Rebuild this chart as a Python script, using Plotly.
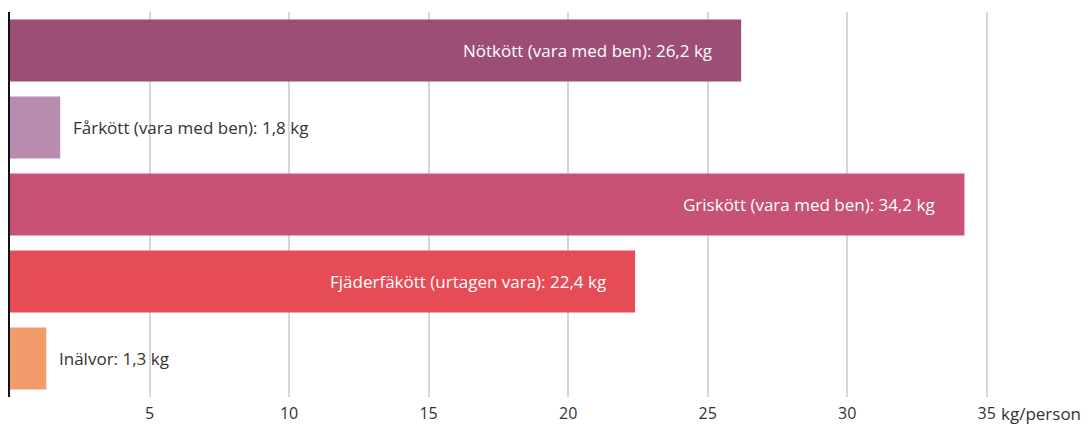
import plotly.graph_objects as go

categories = ["Nötkött (vara med ben)", "Fårkött (vara med ben)", "Griskött (vara med ben)",
              "Fjäderfäkött (urtagen vara)", "Inälvor"]
values = [26.2, 1.8, 34.2, 22.4, 1.3]
value_labels = ["26,2", "1,8", "34,2", "22,4", "1,3"]
colors = ["#9D4E74", "#B98BAF", "#C85274", "#E54C55", "#F29C6B"]
tick_vals = [5, 10, 15, 20, 25, 30, 35]
tick_text = ["5", "10", "15", "20", "25", "30", "35"]
unit = "kg/person"
inside_threshold = 10

FONT = "'Open Sans', sans-serif"
FS = 17

fig = go.Figure()
fig.add_trace(go.Bar(
    y=categories, x=values, orientation="h",
    marker=dict(color=colors, line=dict(width=0)),
    hoverinfo="skip",
))

for cat, v, lab in zip(categories, values, value_labels):
    txt = f"{cat}: {lab} kg"
    if v >= inside_threshold:
        fig.add_annotation(x=v, y=cat, xref="x", yref="y", text=txt, showarrow=False,
                           xanchor="right", xshift=-27,
                           font=dict(family=FONT, size=FS, color="#ffffff"))
    else:
        fig.add_annotation(x=v, y=cat, xref="x", yref="y", text=txt, showarrow=False,
                           xanchor="left", xshift=11,
                           font=dict(family=FONT, size=FS, color="#333333"))

fig.add_annotation(x=35, xref="x", y=0, yref="paper", text=unit, showarrow=False,
                   xanchor="left", yanchor="middle", xshift=13, yshift=-16, borderpad=0,
                   font=dict(family=FONT, size=FS, color="#333333"))

fig.update_layout(
    width=1082, height=417,
    margin=dict(l=2, r=0, t=4, b=28),
    plot_bgcolor="white", paper_bgcolor="white",
    bargap=0.195,
    showlegend=False,
    font=dict(family=FONT, size=FS, color="#333333"),
)
fig.update_xaxes(range=[0, 38.7], tickvals=tick_vals, ticktext=tick_text,
                 showgrid=True, gridcolor="#d6d6d6", gridwidth=2,
                 zeroline=False, showline=False, ticks="", ticklabelstandoff=5,
                 automargin=False,
                 tickfont=dict(family=FONT, size=FS - 1, color="#333333"))
fig.update_yaxes(autorange="reversed", showticklabels=False, showgrid=False,
                 showline=True, linecolor="#111111", linewidth=2, ticks="",
                 automargin=False)

fig.write_html("out.html")
